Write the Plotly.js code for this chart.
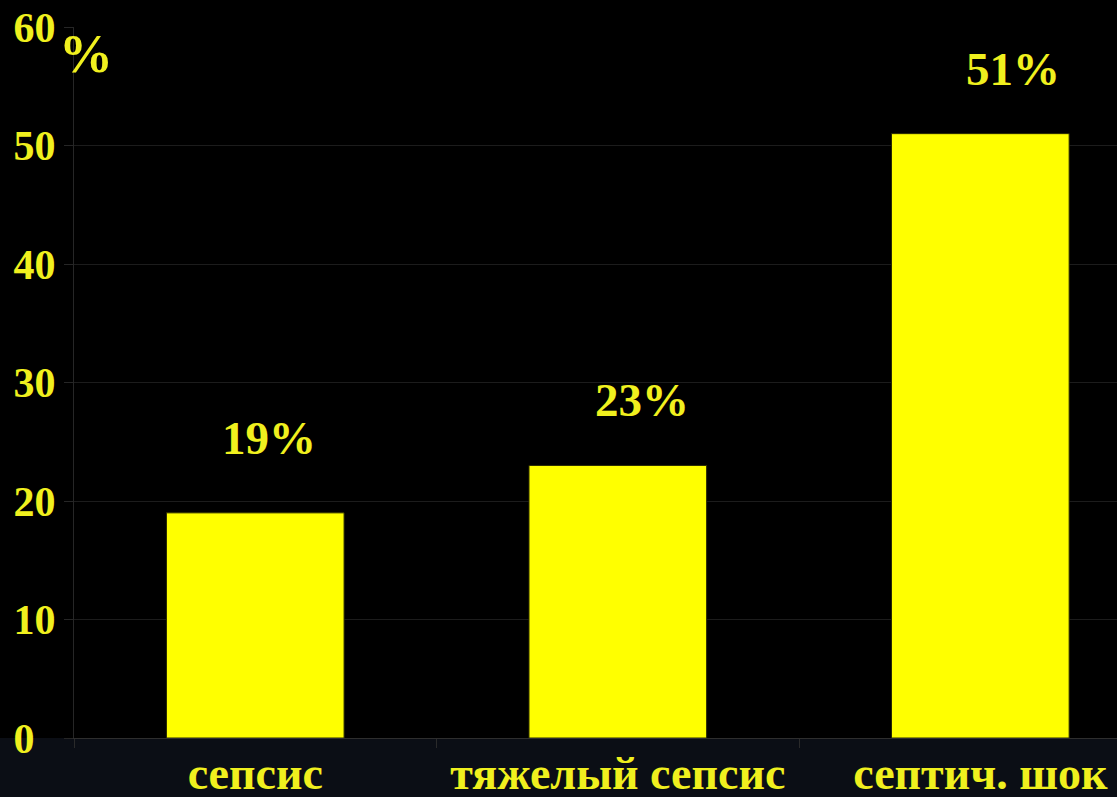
<!DOCTYPE html>
<html>
<head>
<meta charset="utf-8">
<script src="https://cdn.plot.ly/plotly-3.0.1.min.js"></script>
<style>html,body{margin:0;padding:0;background:#000;}#chart{width:1117px;height:797px;}</style>
</head>
<body>
<div id="chart"></div>
<script>
const categories = ["сепсис", "тяжелый сепсис", "септич. шок"];
const values = [19, 23, 51];
const valueLabels = ["19%", "23%", "51%"];
const yTickVals = [0, 10, 20, 30, 40, 50, 60];
const yTickText = ["0\u00a0\u00a0", "10", "20", "30", "40", "50", "60"];

// label placement offsets (pixels), layout only
const labelXShift = [14, 24, 33];
const labelYShift = [47, 37, 37];

const textColor = "#f0f01e";
const font = "Liberation Serif, Times New Roman, serif";

const trace = {
  type: "bar",
  x: categories,
  y: values,
  width: 0.49,
  marker: {color: "#ffff00", line: {color: "#2a2a00", width: 1}},
  hoverinfo: "skip"
};

const annotations = categories.map((c, i) => ({
  x: c, y: values[i], xref: "x", yref: "y",
  text: valueLabels[i],
  showarrow: false, yanchor: "bottom",
  xshift: labelXShift[i], yshift: labelYShift[i],
  font: {family: font, size: 47, color: textColor, weight: "bold"}
}));
annotations.push({
  xref: "paper", yref: "paper", x: 0.0115, y: 0.962,
  text: "%", showarrow: false, xanchor: "center", yanchor: "middle",
  font: {family: font, size: 54, color: textColor, weight: "bold"}
});

const layout = {
  width: 1117, height: 797,
  margin: {l: 74, r: 0, t: 27, b: 59},
  paper_bgcolor: "#000", plot_bgcolor: "#000",
  showlegend: false,
  xaxis: {
    type: "category",
    range: [-0.5, 2.377],
    tickson: "boundaries",
    ticks: "outside", ticklen: 9, tickcolor: "#2a2a2a",
    showgrid: false,
    showline: true, linecolor: "#2e2e2e", linewidth: 1,
    tickfont: {family: font, size: 46, color: textColor, weight: "bold"},
    ticklabelstandoff: -5,
    fixedrange: true
  },
  yaxis: {
    range: [0, 60],
    tickvals: yTickVals, ticktext: yTickText,
    ticks: "outside", ticklen: 9, tickcolor: "#262626",
    showgrid: true, gridcolor: "#1c1c1c", gridwidth: 1,
    zeroline: false,
    showline: true, linecolor: "#262626", linewidth: 1,
    tickfont: {family: font, size: 42, color: textColor, weight: "bold"},
    ticklabelstandoff: 0,
    fixedrange: true
  },
  shapes: [{
    type: "rect", xref: "paper", yref: "paper",
    x0: -0.1, x1: 1.05, y0: -0.1, y1: 0,
    fillcolor: "#0b0e15", line: {width: 0}, layer: "below"
  }],
  annotations: annotations
};

Plotly.newPlot("chart", [trace], layout, {displayModeBar: false, staticPlot: true});
</script>
</body>
</html>
